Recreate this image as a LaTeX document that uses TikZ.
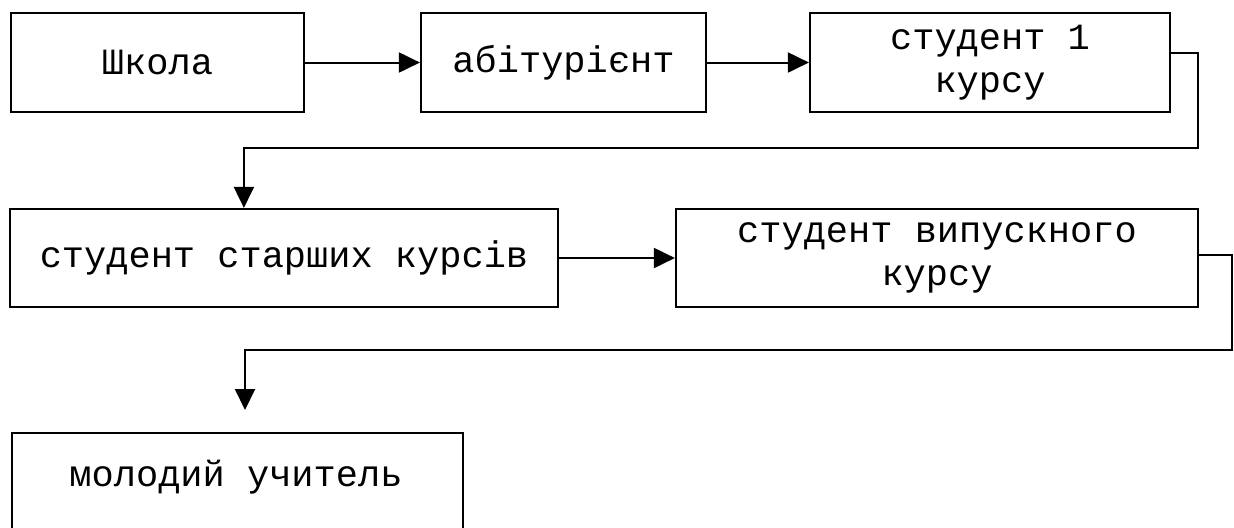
\documentclass[tikz,border=0pt]{standalone}
\usepackage{fontspec}
\setmonofont{Liberation Mono}
\usetikzlibrary{arrows.meta}
\begin{document}
\begin{tikzpicture}[x=0.5pt,y=-0.5pt,
  box/.style={draw, line width=1.1pt, rectangle, inner sep=0pt, align=center,
    minimum height=49.5pt, font=\ttfamily\fontsize{18.5}{21.5}\selectfont},
  lbl/.style={inner sep=0pt, font=\ttfamily\fontsize{18.5}{21.5}\selectfont},
  conn/.style={line width=1pt, -{Triangle[length=10.5pt,width=10pt]}}]
\useasboundingbox (0,0) rectangle (1234,527);
\clip (0,0) rectangle (1234,527);
\node[box, minimum width=146.5pt] (b1) at (157.5,62.5) {Школа};
\node[box, minimum width=142.5pt] (b2) at (563.5,62.5) {абітурієнт};
\node[box, minimum width=180pt] (b3) at (990,62.5) {студент 1\\курсу};
\node[box, minimum width=274pt, minimum height=49pt] (b4) at (284,258) {студент старших курсів};
\node[box, minimum width=261pt, minimum height=49pt] (b5) at (937,258) {студент випускного\\курсу};
\node[box, minimum width=225.5pt, minimum height=64pt, anchor=north west] (b6) at (11,432) {};
\node[lbl] (t6) at (236,477) {молодий учитель};
\coordinate (c1) at (1198,148);
\coordinate (c2) at (1232,350);
\coordinate (c3) at (245,410);
\draw[conn] (b1.east) -- (b2.west);
\draw[conn] (b2.east) -- (b3.west);
\draw[conn] ([yshift=5pt]b3.east) -| (c1) -| ([xshift=117.5pt]b4.north west);
\draw[conn] (b4.east) -- (b5.west);
\draw[conn] ([yshift=1.75pt]b5.east) -| (c2) -| (c3);
\end{tikzpicture}
\end{document}
